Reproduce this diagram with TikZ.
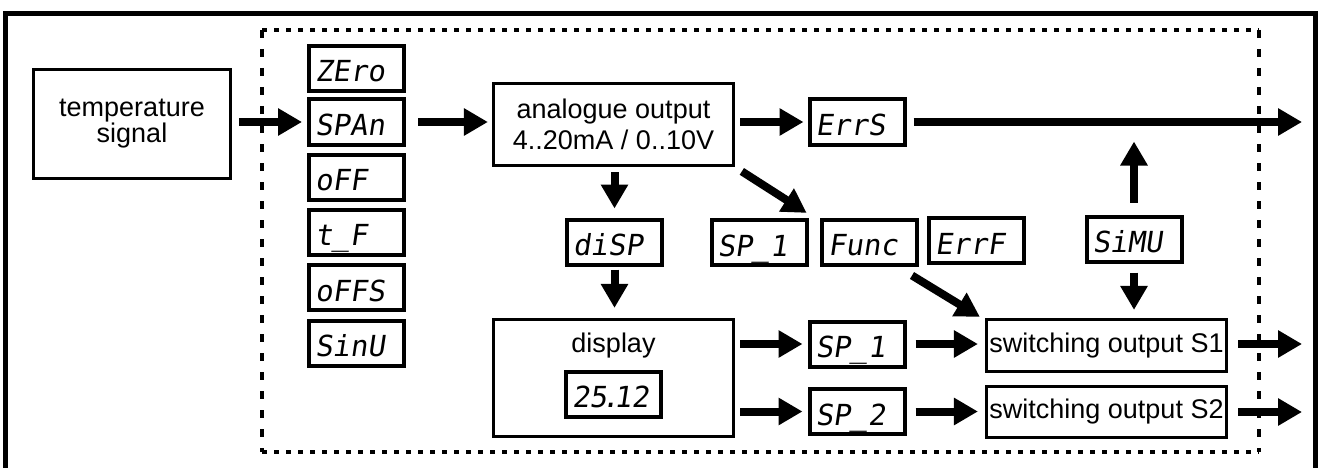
\documentclass[tikz,border=0pt]{standalone}
\usepackage{fontspec}
\newfontfamily\lsans{Liberation Sans}
\newfontfamily\segf{DejaVu Sans Mono}[FakeSlant=0.15]
\usetikzlibrary{arrows.meta,calc}
\newcommand\sg[1]{\makebox[83pt][l]{#1}}
\begin{document}
\begin{tikzpicture}[x=1pt,y=-1pt,
  mainbox/.style={draw, line width=3.2pt, inner sep=0pt, align=center,
    font=\fontsize{27}{29}\selectfont\lsans},
  segbox/.style={draw, line width=4pt, inner xsep=6pt, inner ysep=0pt,
    minimum height=45pt, text height=27pt, text depth=0pt,
    font=\fontsize{29}{30}\selectfont\segf},
  arr/.style={line width=8pt, -{Triangle[length=24pt,width=26pt]}},
  hdots/.style={line width=4pt, dash pattern=on 5pt off 7pt},
  vdash/.style={line width=4pt, dash pattern=on 8pt off 11pt},
  frame/.style={line width=5pt}]
\useasboundingbox (0,0) rectangle (1319,468);
% outer frame
\draw[frame] (5,472) -- (5,14) -- (1315,14) -- (1315,472);
% dotted boundary
\coordinate (dtl) at (262,30);
\coordinate (dtr) at (1259,30);
\coordinate (dbr) at (1259,452);
\coordinate (dbl) at (262,452);
\draw[hdots] (dtl) -- (dtr);
\draw[hdots] (dbl) -- (dbr);
\draw[vdash] (dtl) -- (dbl);
\draw[vdash] (dtr) -- (dbr);

% main boxes
\node[mainbox, minimum width=197pt, minimum height=109pt, font=\fontsize{27}{26}\selectfont\lsans] (temp) at (132,124) {temperature\\signal};
\node[mainbox, minimum width=240pt, minimum height=82pt, font=\fontsize{27}{31}\selectfont\lsans] (ana) at (613.5,124.5) {analogue output\\4..20mA / 0..10V};
\node[mainbox, minimum width=240pt, minimum height=117pt] (display) at (613.5,378) {};
\node[font=\fontsize{27}{29}\selectfont\lsans, anchor=base] (displabel) at (613.5,352) {display};
\node[mainbox, minimum width=240pt, minimum height=52pt] (s1) at (1106.5,345.5) {switching output S1};
\node[mainbox, minimum width=240pt, minimum height=51pt] (s2) at (1106.5,412) {switching output S2};

% parameter boxes
\node[segbox] (zero) at (356.5,68.5) {\sg{ZEro}};
\node[segbox] (spa)  at (356.5,122) {\sg{SPAn}};
\node[segbox] (off)  at (356.5,177) {\sg{oFF}};
\node[segbox] (tf)   at (356.5,232) {\sg{t\_F}};
\node[segbox] (offs) at (356.5,287.5) {\sg{oFFS}};
\node[segbox] (sinu) at (356.5,343) {\sg{SinU}};
\node[segbox] (errs) at (857,122) {\sg{ErrS}};
\node[segbox] (disp) at (614.5,242) {\sg{diSP}};
\node[segbox] (sp1a) at (759,242.5) {\sg{SP\_1}};
\node[segbox] (func) at (869.5,242) {\sg{Func}};
\node[segbox] (errf) at (976.5,240.5) {\sg{ErrF}};
\node[segbox] (simu) at (1134,239) {\sg{SiMU}};
\node[segbox] (sp1b) at (857,344) {\sg{SP\_1}};
\node[segbox] (sp2)  at (857,411.5) {\sg{SP\_2}};
\node[segbox] (val)  at (613.5,394) {\sg{25{\kern-.18em}.{\kern-.18em}12}};

% free ends
\coordinate (out1) at (1302,122);
\coordinate (out2) at (1302,344);
\coordinate (out3) at (1302,412);

% connectors
\draw[arr, shorten <=7pt, shorten >=5pt] (temp.east |- spa.west) -- (spa.west);
\draw[arr, shorten <=12pt, shorten >=4pt] (spa.east) -- (spa.east -| ana.west);
\draw[arr, shorten <=5pt, shorten >=4pt] (ana.east |- errs.west) -- (errs.west);
\draw[arr, shorten <=7pt] (errs.east) -- (out1);
\draw[arr, shorten <=5pt, shorten >=9pt] (ana.south -| disp.north) -- (disp.north);
\draw[arr, shorten <=3pt, shorten >=10pt] (disp.south) -- (disp.south |- display.north);
\draw[arr, shorten <=8pt, shorten >=9pt] (ana.south east) -- ($(sp1a.north east)!0.5!(func.north west)$);
\draw[arr] ($(func.south east)+(-7,9)$) -- ($(s1.north west)+(-5,-1)$);
\draw[arr, shorten <=12pt, shorten >=-5pt] (simu.north) -- (simu.north |- errs.south);
\draw[arr, shorten <=9pt, shorten >=8pt] (simu.south) -- (simu.south |- s1.north);
\draw[arr, shorten <=5pt, shorten >=5pt] (display.east |- sp1b.west) -- (sp1b.west);
\draw[arr, shorten <=5pt, shorten >=5pt] (display.east |- sp2.west) -- (sp2.west);
\draw[arr, shorten <=9pt, shorten >=7pt] (sp1b.east) -- (sp1b.east -| s1.west);
\draw[arr, shorten <=9pt, shorten >=7pt] (sp2.east) -- (sp2.east -| s2.west);
\draw[arr, shorten <=10pt] (s1.east |- out2) -- (out2);
\draw[arr, shorten <=10pt] (s2.east |- out3) -- (out3);
\end{tikzpicture}
\end{document}
